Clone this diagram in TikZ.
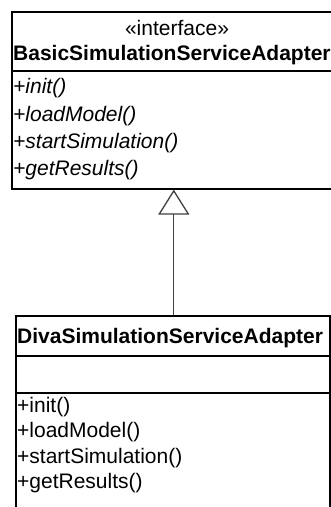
\documentclass[tikz,border=0pt]{standalone}
\usepackage{fontspec}
\setmainfont{Liberation Sans}
\usetikzlibrary{arrows.meta}
\tikzset{
  classbox/.style={draw=black, line width=1.6pt, fill=white, inner sep=0pt, anchor=north west},
  sepline/.style={draw=black, line width=1.6pt},
  txt/.style={anchor=base west, inner sep=0pt, font=\fontsize{21}{25}\selectfont},
  realize/.style={draw=black!75, line width=1pt, -{Triangle[open, length=25pt, width=31pt, line width=1.3pt]}}
}
\begin{document}
\begin{tikzpicture}[x=1pt,y=-1pt]
\useasboundingbox (0,0) rectangle (331,507);
\clip (0,0) rectangle (331,507);
% interface box
\node[classbox, minimum width=326pt, minimum height=177pt] (iface) at (11,11) {};
\draw[sepline] (11,71) -- (337,71);
\node[txt, anchor=base] (stereo) at (177,35) {«interface»};
\node[txt, font=\fontsize{21}{25}\selectfont\bfseries] (ifname) at (13,60) {BasicSimulationServiceAdapter};
\node[txt, font=\fontsize{21}{25}\selectfont\itshape] (im1) at (13,93) {+init()};
\node[txt, font=\fontsize{21}{25}\selectfont\itshape] (im2) at (13,121) {+loadModel()};
\node[txt, font=\fontsize{21}{25}\selectfont\itshape] (im3) at (13,148) {+startSimulation()};
\node[txt, font=\fontsize{21}{25}\selectfont\itshape] (im4) at (13,175) {+getResults()};
% implementing class
\node[classbox, minimum width=314pt, minimum height=210pt] (impl) at (15,315) {};
\draw[sepline] (15,356) -- (329,356);
\draw[sepline] (15,393) -- (329,393);
\node[txt, font=\fontsize{21}{25}\selectfont\bfseries] (clname) at (17,343) {DivaSimulationServiceAdapter};
\node[txt] (cm1) at (17,412) {+init()};
\node[txt] (cm2) at (17,437) {+loadModel()};
\node[txt] (cm3) at (17,463) {+startSimulation()};
\node[txt] (cm4) at (17,488) {+getResults()};
% realization
\draw[realize] ([xshift=1pt]impl.north) -- ([xshift=1pt]impl.north |- iface.south);
\end{tikzpicture}
\end{document}
